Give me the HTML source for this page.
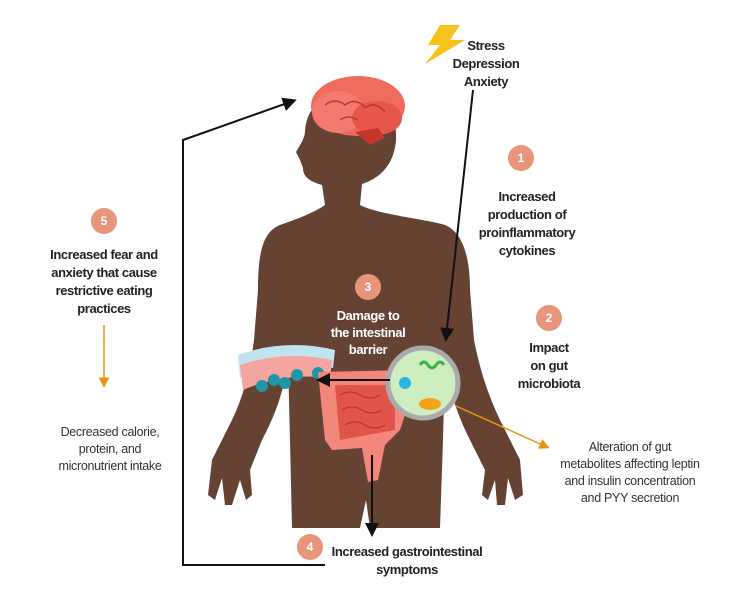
<!DOCTYPE html>
<html><head><style>
body{margin:0;background:#fff;}
svg text{font-family:"Liberation Sans",sans-serif;}
.b{font-weight:bold;font-size:13px;fill:#222;letter-spacing:-0.4px;}
.n{font-size:12.5px;fill:#333;letter-spacing:-0.3px;}
.num{fill:#fff;font-size:12px;font-weight:bold;}
</style></head><body>
<svg width="747" height="592" viewBox="0 0 747 592" xmlns="http://www.w3.org/2000/svg">
<defs>
<marker id="ab" markerWidth="7" markerHeight="7" refX="5" refY="3.5" orient="auto"><path d="M0,0 L7,3.5 L0,7 z" fill="#111"/></marker>
<marker id="ao" markerWidth="7" markerHeight="7" refX="5" refY="3.5" orient="auto"><path d="M0,0 L7,3.5 L0,7 z" fill="#e8960f"/></marker>
</defs>
<path fill="#664233" d="M345,93 C375,88 398,110 396,140 C394,165 380,178 362,184 L360,205 C380,215 420,218 445,225 C462,232 470,255 470,290 L474,340 C480,370 488,395 500,420 L520,460 L523,495 L515,500 L508,478 L505,505 L497,505 L495,480 L488,500 L482,495 L485,470 L470,440 C455,410 448,385 445,360 L443,440 L440,528 L370,528 L366,500 L360,528 L292,528 L290,440 L288,360 C285,385 278,410 262,440 L250,470 L252,495 L246,500 L240,480 L232,505 L225,505 L222,478 L215,500 L208,495 L212,460 L232,420 C244,395 250,370 254,340 L258,290 C258,255 262,232 280,225 C300,218 315,212 325,205 L322,185 C312,182 303,178 303,168 L300,160 L296,152 C300,145 304,140 305,132 C306,108 322,95 345,93 z"/>
<g>
<ellipse cx="358" cy="106" rx="47" ry="30" fill="#ef6b5e"/>
<ellipse cx="338" cy="112" rx="26" ry="21" fill="#f27a6e"/>
<ellipse cx="377" cy="118" rx="25" ry="17" fill="#e8564b"/>
<path d="M355,132 L370,145 L385,138 L378,128 z" fill="#c4352c"/>
<path d="M325,105 q10,-8 20,0 q10,-8 20,2 M340,120 q8,-6 18,0 M365,108 q10,-8 20,4" stroke="#b83a30" stroke-width="1.5" fill="none"/>
</g>
<path d="M440,25 L460,25 L450,40 L465,40 L425,64 L440,45 L428,45 z" fill="#f6c21c"/>
<path d="M238,355 Q285,338 335,350 L333,368 Q285,360 240,378 z" fill="#bfe4f0"/>
<path d="M240,365 Q285,350 332,360 L330,378 Q285,372 243,390 z" fill="#f4a5a0"/>
<g fill="#1f95a8"><circle cx="262" cy="386" r="6"/><circle cx="274" cy="380" r="6"/><circle cx="285" cy="383" r="6"/><circle cx="297" cy="375" r="6"/><circle cx="318" cy="373" r="6"/></g>
<path d="M318,372 L408,370 L410,400 L400,430 L385,445 L378,480 L368,482 L362,448 L332,450 L325,440 z" fill="#f3877b"/>
<path d="M335,385 L395,385 L395,430 L340,440 z" fill="#e0544b"/>
<path d="M340,395 q10,-6 20,0 q10,6 20,0 M342,410 q10,-6 20,0 q10,6 20,0 M345,425 q10,-6 20,0 q10,6 20,0" stroke="#b8342c" stroke-width="1.3" fill="none"/>
<circle cx="423" cy="383" r="35" fill="#cfeec0" stroke="#aaa" stroke-width="5"/>
<path d="M420,365 q4,-6 8,0 q4,6 8,0 q4,-6 8,0" stroke="#3bb04a" stroke-width="3" fill="none"/>
<circle cx="405" cy="383" r="6" fill="#28b5e0"/>
<ellipse cx="430" cy="404" rx="11" ry="6" fill="#f3a21b"/>
<path d="M325,565 L183,565 L183,140 L293,101" stroke="#111" stroke-width="2" fill="none" marker-end="url(#ab)"/>
<path d="M473,90 L446,338" stroke="#111" stroke-width="2" fill="none" marker-end="url(#ab)"/>
<path d="M390,380 L320,380" stroke="#111" stroke-width="2" fill="none" marker-end="url(#ab)"/>
<path d="M372,455 L372,533" stroke="#111" stroke-width="2" fill="none" marker-end="url(#ab)"/>
<path d="M104,325 L104,385" stroke="#e8960f" stroke-width="1.5" fill="none" marker-end="url(#ao)"/>
<path d="M456,406 L547,447" stroke="#e8960f" stroke-width="1.5" fill="none" marker-end="url(#ao)"/>
<g fill="#e8957b">
<circle cx="521" cy="158" r="13"/><circle cx="549" cy="318" r="13"/><circle cx="368" cy="287" r="13"/><circle cx="310" cy="547" r="13"/><circle cx="104" cy="221" r="13"/></g>
<g class="num" text-anchor="middle">
<text x="521" y="162">1</text><text x="549" y="322">2</text><text x="368" y="291">3</text><text x="310" y="551">4</text><text x="104" y="225">5</text></g>
<g class="b" text-anchor="middle">
<text x="486" y="50">Stress</text><text x="486" y="68">Depression</text><text x="486" y="86">Anxiety</text>
<text x="527" y="201">Increased</text><text x="527" y="219">production of</text><text x="527" y="237">proinflammatory</text><text x="527" y="255">cytokines</text>
<text x="549" y="352">Impact</text><text x="549" y="370">on gut</text><text x="549" y="388">microbiota</text>
<text x="104" y="259">Increased fear and</text><text x="104" y="277">anxiety that cause</text><text x="104" y="295">restrictive eating</text><text x="104" y="313">practices</text>
<text x="407" y="556">Increased gastrointestinal</text><text x="407" y="574">symptoms</text>
</g>
<g class="b" text-anchor="middle" style="fill:#fff">
<text x="368" y="320">Damage to</text><text x="368" y="337">the intestinal</text><text x="368" y="354">barrier</text>
</g>
<g class="n" text-anchor="middle">
<text x="110" y="436">Decreased calorie,</text><text x="110" y="453">protein, and</text><text x="110" y="470">micronutrient intake</text>
<text x="630" y="451">Alteration of gut</text><text x="630" y="468">metabolites affecting leptin</text><text x="630" y="485">and insulin concentration</text><text x="630" y="502">and PYY secretion</text>
</g>
</svg>
</body></html>
